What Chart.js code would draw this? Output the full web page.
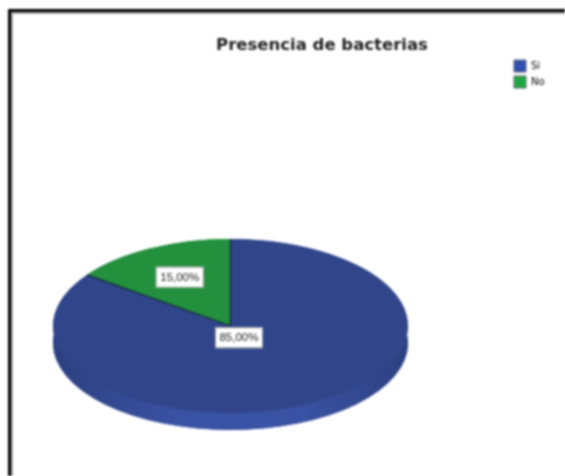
<!DOCTYPE html>
<html>
<head>
<meta charset="utf-8">
<style>
html,body{margin:0;padding:0;background:#fff;overflow:hidden}
#wrap{position:relative;width:565px;height:476px}
canvas{display:block;filter:blur(1px)}
</style>
<script src="https://cdn.jsdelivr.net/npm/chart.js@4"></script>
</head>
<body>
<div id="wrap"><canvas id="c" width="565" height="476"></canvas></div>
<script>
const categories = ['Si', 'No'];
const percentValues = [85, 15];
const sliceLabels = ['85,00%', '15,00%'];
const titleText = 'Presencia de bacterias';

const sliceColors = ['#31468a', '#22903c'];
const sideColors = ['#3a52a4', '#1d7a33'];
const legendColors = ['#2f4fb0', '#1fa83f'];

const squash = 0.49;
const depth = 17;
const labelRadiusFraction = [0.105, 0.63];
const labelAnchorY = [0.02, 0];

const pseudo3d = {
  id: 'pseudo3d',
  beforeDraw(chart) {
    const ctx = chart.ctx;
    ctx.save();
    ctx.fillStyle = '#fff';
    ctx.fillRect(0, 0, chart.width, chart.height);
    ctx.fillStyle = '#a8a8a8';
    ctx.fillRect(8, 9, chart.width, 5);
    ctx.fillRect(8, 9, 5, chart.height);
    ctx.fillStyle = '#000';
    ctx.fillRect(8, 9, chart.width, 3);
    ctx.fillRect(8, 9, 3, chart.height);
    ctx.restore();
  },
  afterLayout(chart) {
    Object.assign(chart.chartArea, {left: 53, right: 408, top: 239, bottom: 413, width: 355, height: 174});
    chart.legend.left = 510;
    chart.legend.right = 550;
    chart.legend.top = 56;
    chart.legend.bottom = 200;
    chart.titleBlock.left = 122;
    chart.titleBlock.right = 522;
    chart.titleBlock.top = 36;
  },
  beforeDatasetsDraw(chart) {
    const ctx = chart.ctx;
    const meta = chart.getDatasetMeta(0);
    const a0 = meta.data[0];
    const cx = a0.x, cy = a0.y, r = a0.outerRadius;
    // side wall, drawn from the arcs the library computed
    ctx.save();
    ctx.translate(cx, cy);
    ctx.scale(1, squash);
    for (let i = 0; i < meta.data.length; i++) {
      const arc = meta.data[i];
      const g = ctx.createLinearGradient(-r, 0, r, 0);
      g.addColorStop(0, '#2c4080');
      g.addColorStop(0.35, sideColors[i]);
      g.addColorStop(0.7, sideColors[i]);
      g.addColorStop(1, '#2c4080');
      ctx.fillStyle = g;
      ctx.beginPath();
      ctx.arc(0, depth / squash, r, arc.startAngle, arc.endAngle);
      ctx.arc(0, 0, r, arc.endAngle, arc.startAngle, true);
      ctx.closePath();
      ctx.fill();
      ctx.beginPath();
      ctx.moveTo(0, depth / squash);
      ctx.arc(0, depth / squash, r, arc.startAngle, arc.endAngle);
      ctx.closePath();
      ctx.fill();
    }
    ctx.restore();
    ctx.save();
    ctx.translate(cx, cy);
    ctx.scale(1, squash);
    ctx.translate(-cx, -cy);
  },
  afterDatasetsDraw(chart) {
    const ctx = chart.ctx;
    ctx.restore();
    const meta = chart.getDatasetMeta(0);
    ctx.save();
    // dark separators between the slices
    ctx.strokeStyle = '#14203f';
    ctx.lineWidth = 1.2;
    meta.data.forEach((arc) => {
      ctx.beginPath();
      ctx.moveTo(arc.x, arc.y);
      ctx.lineTo(arc.x + Math.cos(arc.startAngle) * arc.outerRadius,
                 arc.y + Math.sin(arc.startAngle) * arc.outerRadius * squash);
      ctx.stroke();
    });
    ctx.font = '11.5px "Liberation Sans", Arial, sans-serif';
    ctx.textAlign = 'center';
    ctx.textBaseline = 'middle';
    meta.data.forEach((arc, i) => {
      const mid = (arc.startAngle + arc.endAngle) / 2;
      const rr = arc.outerRadius * labelRadiusFraction[i];
      const x = arc.x + Math.cos(mid) * rr;
      const y = arc.y + Math.sin(mid) * rr * squash + labelAnchorY[i] * arc.outerRadius;
      const w = 48, h = 21;
      ctx.fillStyle = '#fff';
      ctx.fillRect(x - w / 2, y - h / 2, w, h);
      ctx.strokeStyle = '#9a9a9a';
      ctx.lineWidth = 1;
      ctx.strokeRect(x - w / 2 + .5, y - h / 2 + .5, w - 1, h - 1);
      ctx.fillStyle = '#222';
      ctx.fillText(sliceLabels[i], x, y + 0.5);
    });
    ctx.restore();
  }
};

new Chart(document.getElementById('c'), {
  type: 'pie',
  data: {
    labels: categories,
    datasets: [{
      data: percentValues,
      backgroundColor: sliceColors,
      borderWidth: 0,
      clip: false,
      radius: 177.5
    }]
  },
  options: {
    responsive: false,
    animation: false,
    rotation: 0,
    layout: {padding: {top: 27, left: 0, right: 0, bottom: 0}},
    plugins: {
      tooltip: {enabled: false},
      title: {
        display: true,
        text: titleText,
        color: '#222',
        font: {family: '"DejaVu Sans", Verdana, sans-serif', size: 16.5, weight: 'bold'},
        padding: {top: 0, bottom: 0},
        align: 'center'
      },
      legend: {
        position: 'right',
        align: 'start',
        labels: {
          boxWidth: 12,
          boxHeight: 12,
          padding: 4,
          color: '#777',
          font: {family: '"DejaVu Sans", Verdana, sans-serif', size: 10},
          generateLabels(chart) {
            return categories.map((t, i) => ({
              text: t,
              fillStyle: legendColors[i],
              strokeStyle: '#667',
              lineWidth: 1,
              index: i,
              hidden: false
            }));
          }
        }
      }
    }
  },
  plugins: [pseudo3d]
});
</script>
</body>
</html>
